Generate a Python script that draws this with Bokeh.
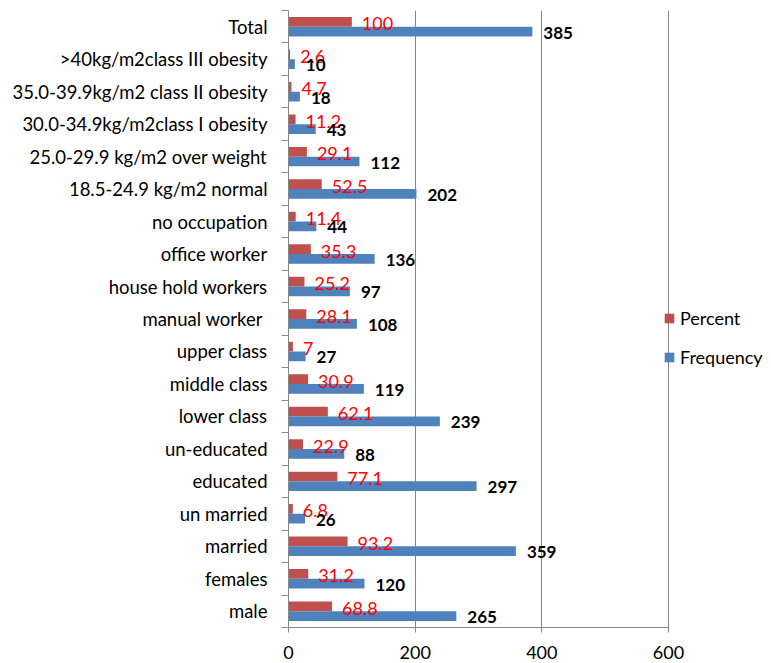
from bokeh.plotting import figure
from bokeh.models import ColumnDataSource, Range1d, FixedTicker, Legend, LegendItem
from bokeh.core.properties import value
from bokeh.embed import file_html
from bokeh.resources import INLINE

categories = [
    "male", "females", "married", "un married", "educated", "un-educated",
    "lower class", "middle class", "upper class", "manual  worker",
    "house hold workers", "office worker", "no occupation",
    "18.5-24.9 kg/m2 normal", "25.0-29.9 kg/m2 over weight",
    "30.0-34.9kg/m2class I obesity", "35.0-39.9kg/m2 class II obesity",
    ">40kg/m2class III obesity", "Total",
]
percent = [68.8, 31.2, 93.2, 6.8, 77.1, 22.9, 62.1, 30.9, 7, 28.1, 25.2, 35.3,
           11.4, 52.5, 29.1, 11.2, 4.7, 2.6, 100]
frequency = [265, 120, 359, 26, 297, 88, 239, 119, 27, 108, 97, 136, 44, 202,
             112, 43, 18, 10, 385]
x_ticks = [0, 200, 400, 600]

RED = "#C0504D"
BLUE = "#4F81BD"
GRAY = "#868686"
FONT = "Lato"

n = len(categories)
centers = [i + 0.5 for i in range(n)]
src = ColumnDataSource(dict(
    cat=categories,
    pct=percent,
    freq=frequency,
    y_pct=[c + 0.15 for c in centers],
    y_freq=[c - 0.15 for c in centers],
    pct_lbl=[("%g" % v) for v in percent],
    freq_lbl=[str(v) for v in frequency],
))

# frame extends right to hold the legend; the axis itself stops at 600
p = figure(width=771, height=663, frame_width=483, frame_height=617,
           output_backend="svg", toolbar_location=None,
           x_range=Range1d(0, 762.6), y_range=Range1d(0, n),
           min_border_left=288, min_border_right=0, min_border_top=10,
           min_border_bottom=36)
p.outline_line_color = None
p.background_fill_color = "white"

r_pct = p.hbar(y="y_pct", right="pct", left=0, height=0.3, source=src,
               fill_color=RED, line_color=None)
r_freq = p.hbar(y="y_freq", right="freq", left=0, height=0.3, source=src,
                fill_color=BLUE, line_color=None)

p.text(x="pct", y="y_pct", text="pct_lbl", source=src, x_offset=10, y_offset=2,
       text_font=value(FONT), text_font_size="18px", text_color="#FF0000",
       text_baseline="middle", text_align="left")
p.text(x="freq", y="y_freq", text="freq_lbl", source=src, x_offset=11, y_offset=1,
       text_font=value(FONT), text_font_size="17px", text_font_style="bold",
       text_color="black", text_baseline="middle", text_align="left")

# grid
p.xgrid.ticker = FixedTicker(ticks=x_ticks[1:])
p.xgrid.grid_line_color = GRAY
p.ygrid.grid_line_color = None

# x axis
xa = p.xaxis[0]
xa.ticker = FixedTicker(ticks=x_ticks)
xa.bounds = (x_ticks[0], x_ticks[-1])
xa.axis_line_color = GRAY
xa.major_tick_line_color = GRAY
xa.major_tick_out = 5
xa.major_tick_in = 0
xa.minor_tick_line_color = None
xa.major_label_text_font = FONT
xa.major_label_text_font_size = "18px"
xa.major_label_text_color = "black"
xa.major_label_standoff = 13

# y axis
ya = p.yaxis[0]
ya.ticker = FixedTicker(ticks=centers, minor_ticks=list(range(n + 1)))
ya.major_label_overrides = {c: lab for c, lab in zip(centers, categories)}
ya.axis_line_color = GRAY
ya.major_tick_line_color = None
ya.major_tick_out = 0
ya.major_tick_in = 0
ya.minor_tick_line_color = GRAY
ya.minor_tick_out = 7
ya.minor_tick_in = 0
ya.major_label_text_font = FONT
ya.major_label_text_font_size = "18.5px"
ya.major_label_text_color = "black"
ya.major_label_standoff = 14

legend = Legend(items=[LegendItem(label="Percent", renderers=[r_pct]),
                       LegendItem(label="Frequency", renderers=[r_freq])],
                location=(375, 259))
legend.border_line_color = None
legend.background_fill_alpha = 0
legend.padding = 0
legend.margin = 0
legend.spacing = 17
legend.glyph_width = 12
legend.glyph_height = 12
legend.label_height = 20
legend.label_standoff = 5
legend.label_text_font = FONT
legend.label_text_font_size = "18px"
legend.label_text_color = "black"
p.add_layout(legend)

open("out.html", "w").write(file_html(p, INLINE))
